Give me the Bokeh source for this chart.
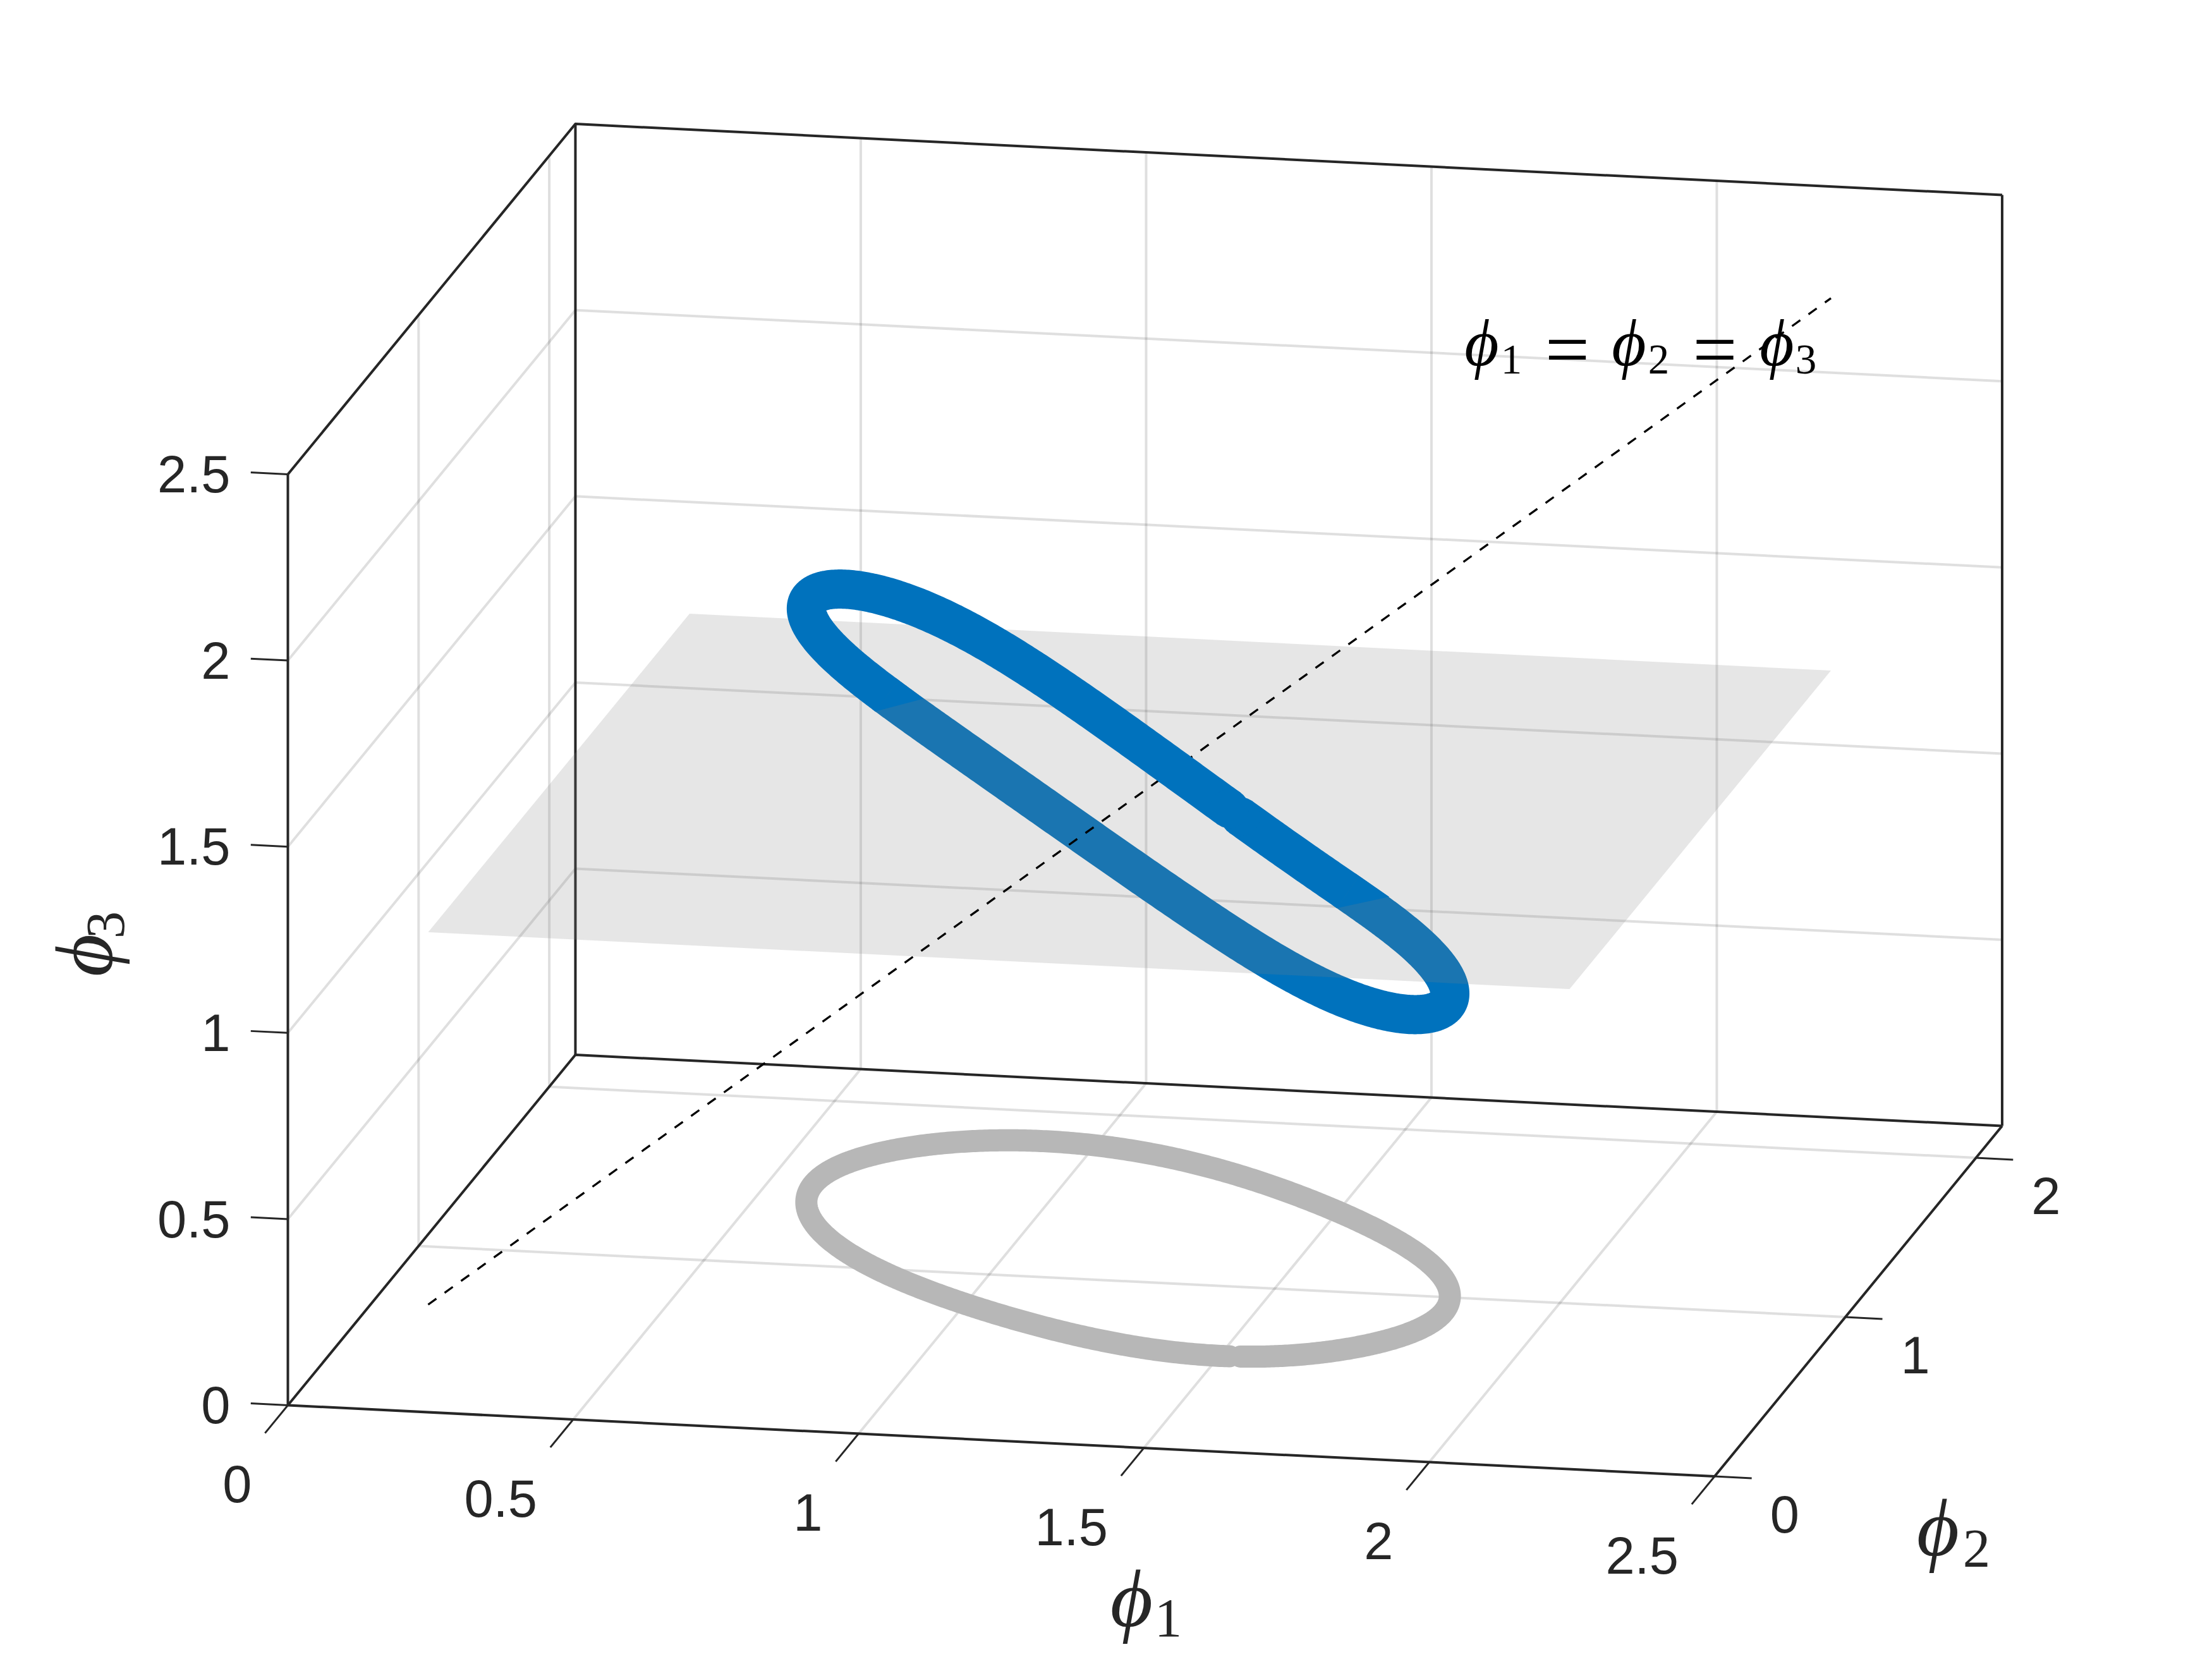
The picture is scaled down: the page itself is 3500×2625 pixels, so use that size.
import numpy as np
from bokeh.plotting import figure
from bokeh.models import Range1d
from bokeh.core.properties import value
from bokeh.embed import file_html
from bokeh.resources import INLINE

# ---- data values ----
phi1_ticks = [0, 0.5, 1, 1.5, 2, 2.5]
phi2_ticks = [0, 1, 2]
phi3_ticks = [0, 0.5, 1, 1.5, 2, 2.5]
phi1_labels = ["0", "0.5", "1", "1.5", "2", "2.5"]
phi2_labels = ["0", "1", "2"]
phi3_labels = ["0", "0.5", "1", "1.5", "2", "2.5"]
phi1_lim = [0, 2.5]
phi2_lim = [0, 2.2]
phi3_lim = [0, 2.5]

plane_phi1 = [0.2, 2.2, 2.2, 0.2]
plane_phi2 = [0.2, 0.2, 2.2, 2.2]
plane_phi3 = [1.2, 1.2, 1.2, 1.2]

diag_ends = [0.2, 2.2]

ring_phi1 = [1.5379, 1.6188, 1.6942, 1.7604, 1.7998, 1.8177, 1.8086, 1.7794, 1.7221,
             1.6164, 1.5019, 1.3936, 1.2894, 1.1890, 1.0937, 1.0020, 0.9156, 0.8324, 0.7179,
             0.6422, 0.5967, 0.5848, 0.5887, 0.6276, 0.6730, 0.7496, 0.8632, 0.9739,
             1.0743, 1.1727, 1.2716, 1.3649, 1.4557, 1.5152]
ring_phi2 = [0.5808, 0.6038, 0.6451, 0.7259, 0.8123, 0.9119, 1.0028, 1.0968, 1.2055,
             1.3522, 1.4814, 1.5834, 1.6680, 1.7361, 1.7815, 1.8111, 1.8183, 1.8113, 1.7564,
             1.6980, 1.6264, 1.5053, 1.4000, 1.2748, 1.1770, 1.0652, 0.9398, 0.8275,
             0.7593, 0.7003, 0.6386, 0.6021, 0.5762, 0.5781]
ring_phi3 = [1.449, 1.347, 1.250, 1.1266, 1.0137, 0.9012, 0.8147, 0.741, 0.668,
             0.601, 0.5847, 0.596, 0.626, 0.6767, 0.7354, 0.8119, 0.8932, 0.9788, 1.129,
             1.2486, 1.3578, 1.465, 1.583, 1.6734, 1.737, 1.792, 1.820, 1.8216,
             1.7877, 1.7391, 1.679, 1.6084, 1.5416, 1.4706]

# positions along the ring (in steps of the lists above) where it passes through the plane
split_right = 2.2
split_left = 18.78

# ---- styles ----
AXIS = "#262626"
BLUE = "#0072BD"
GRAY = "#B7B7B7"
SANS = "Liberation Sans"
SERIF = "Liberation Serif"
W, H = 3500, 2625
BASE = 0.365  # distance from the anchor to the baseline, in font sizes


def proj(a, b, c):
    """Orthographic view of the box, in page pixels."""
    a, b, c = np.asarray(a, float), np.asarray(b, float), np.asarray(c, float)
    return 455.0 + 903.0 * a + 206.8 * b, 2223.0 + 45.0 * a - 252.0 * b - 589.2 * c


def loop_param():
    """Monotonic angle of each read point round the ring, as seen on the floor."""
    a, b = np.asarray(ring_phi1), np.asarray(ring_phi2)
    m = np.c_[a - a.mean(), b - b.mean()]
    vals, vecs = np.linalg.eigh(m.T @ m / len(a))
    w = m @ vecs / np.sqrt(vals)
    return np.unwrap(np.arctan2(w[:, 1], w[:, 0]))


def design(t, order):
    cols = [np.ones_like(t)]
    for k in range(1, order + 1):
        cols += [np.cos(k * t), np.sin(k * t)]
    return np.column_stack(cols)


def smooth_loop(t_read, t_dense, v, order=5):
    """Least-squares smoothing of the hand-read points, to take out reading noise."""
    coef, *_ = np.linalg.lstsq(design(t_read, order), np.asarray(v, float), rcond=None)
    return design(t_dense, order) @ coef


p = figure(width=W, height=H, x_range=Range1d(0, W), y_range=Range1d(H, 0),
           toolbar_location=None, output_backend="svg", min_border=0,
           background_fill_color="white", border_fill_color="white")
p.axis.visible = False
p.grid.visible = False
p.outline_line_color = None


def seg3(a, b, c, color=AXIS, width=4.0, alpha=1.0, **kw):
    x, y = proj(a, b, c)
    p.line(list(x), list(y), line_color=color, line_width=width, line_alpha=alpha, **kw)


x0, x1 = phi1_lim
y0, y1 = phi2_lim
z0, z1 = phi3_lim

# ---- grid lines on the three walls ----
grid_kw = dict(color=AXIS, width=4.0, alpha=0.15)
for t in phi1_ticks[1:-1]:
    seg3([t, t], [y0, y1], [z0, z0], **grid_kw)
    seg3([t, t], [y1, y1], [z0, z1], **grid_kw)
for t in phi2_ticks[1:]:
    seg3([x0, x1], [t, t], [z0, z0], **grid_kw)
    seg3([x0, x0], [t, t], [z0, z1], **grid_kw)
for t in phi3_ticks[1:-1]:
    seg3([x0, x1], [y1, y1], [t, t], **grid_kw)
    seg3([x0, x0], [y0, y1], [t, t], **grid_kw)

# ---- box ----
seg3([x0, x1, x1], [y0, y0, y1], [z0, z0, z0], line_join="round")
seg3([x0, x0, x1], [y0, y1, y1], [z0, z0, z0], line_join="round")
seg3([x0, x0], [y0, y0], [z0, z1])
seg3([x0, x0], [y1, y1], [z0, z1])
seg3([x1, x1], [y1, y1], [z0, z1])
seg3([x0, x0, x1], [y0, y1, y1], [z1, z1, z1], line_join="round")

# ---- ticks ----
tick_w = 3.0
dx_tick = 0.065
dy_tick = 0.175
for t in phi3_ticks:
    seg3([x0, x0 - dx_tick], [y0, y0], [t, t], width=tick_w)
for t in phi1_ticks:
    seg3([t, t], [y0, y0 - dy_tick], [z0, z0], width=tick_w)
for t in phi2_ticks:
    seg3([x1, x1 + dx_tick], [t, t], [z0, z0], width=tick_w)

# ---- smooth ring ----
t_read = loop_param()
run = np.sign(t_read[-1] - t_read[0])
t_dense = np.linspace(t_read[0] - 0.004 * run, t_read[-1] + 0.004 * run, 720)
c1 = smooth_loop(t_read, t_dense, ring_phi1)
c2 = smooth_loop(t_read, t_dense, ring_phi2)
c3 = smooth_loop(t_read, t_dense, ring_phi3)
steps = np.arange(len(t_read))
si_r = int(np.argmin(np.abs(t_dense - np.interp(split_right, steps, t_read))))
si_l = int(np.argmin(np.abs(t_dense - np.interp(split_left, steps, t_read))))

# ---- shadow of the ring on the floor ----
rx, ry = proj(c1, c2, np.zeros(len(c1)))
p.line(list(rx), list(ry), line_color=GRAY, line_width=35, line_join="round", line_cap="round")

# ---- ring, part below the plane ----
bx, by = proj(c1, c2, c3)
p.line(list(bx[si_r - 2:si_l + 3]), list(by[si_r - 2:si_l + 3]), line_color=BLUE, line_width=62,
       line_join="round")

# ---- plane ----
px_, py_ = proj(plane_phi1, plane_phi2, plane_phi3)
p.patch(list(px_), list(py_), fill_color="#808080", fill_alpha=0.2, line_color=None)

# ---- diagonal ----
dx_, dy_ = proj(diag_ends, diag_ends, diag_ends)
p.line(list(dx_), list(dy_), line_color="black", line_width=3.3, line_dash="16 16")

# ---- ring, part above the plane ----
BW = 62
p.line(list(bx[:si_r + 1]), list(by[:si_r + 1]), line_color=BLUE, line_width=BW, line_join="round")
p.line(list(bx[si_l:]), list(by[si_l:]), line_color=BLUE, line_width=BW, line_join="round")
p.scatter([bx[0], bx[-1]], [by[0], by[-1]], size=BW, marker="circle", fill_color=BLUE, line_color=None)


def cut_wedge(ix_end, ix_prev, reach):
    """Where the ring dives under the plane its edge follows the plane, not the stroke normal."""
    d = np.array([bx[ix_end] - bx[ix_prev], by[ix_end] - by[ix_prev]])
    d = d / np.hypot(*d)
    n = np.array([d[1], -d[0]])
    e = np.array([bx[ix_end], by[ix_end]])
    a, b = e - n * BW / 2, e + n * BW / 2
    c = b + d * reach
    p.patch([a[0], b[0], c[0]], [a[1], b[1], c[1]], fill_color=BLUE, line_color=None)


cut_wedge(si_r, si_r - 3, 58)
cut_wedge(si_l, si_l + 3, 49)

# ---- tick labels ----
TICK_FS = 83
lift = BASE * TICK_FS
lab = dict(text_font=value(SANS), text_font_size=f"{TICK_FS}px", text_color=AXIS, text_baseline="alphabetic")
tx, ty = proj([x0] * 6, [y0] * 6, phi3_ticks)
p.text(x=[364] * 6, y=list(ty + 30 - lift), text=phi3_labels, text_align="right", **lab)
tx, ty = proj(phi1_ticks, [y0 - dy_tick] * 6, [z0] * 6)
p.text(x=list(tx - 21), y=list(ty + 111 - lift), text=phi1_labels, text_align="right", **lab)
tx, ty = proj([x1 + dx_tick] * 3, phi2_ticks, [z0] * 3)
p.text(x=list(tx + 29), y=list(ty + 87 - lift), text=phi2_labels, text_align="left", **lab)


# ---- math labels ----
def put(s, x, y, size, style="normal", angle=0.0, color=AXIS):
    k = BASE * size
    xx, yy = (x - k, y) if angle else (x, y - k)
    p.text(x=[xx], y=[yy], text=[s], text_font=value(SERIF), text_font_size=f"{size}px",
           text_font_style=style, text_color=color, text_align="center",
           text_baseline="alphabetic", angle=angle)


PHI = "\u03d5"
put(PHI, 1790, 2576, 130, "italic")
put("1", 1848, 2592, 87)
put(PHI, 3066, 2464, 130, "italic")
put("2", 3127, 2482, 87)
put(PHI, 180, 1511, 130, "italic", np.pi / 2)
put("3", 199, 1463, 87, "normal", np.pi / 2)

put(PHI, 2344, 580, 105, "italic", color="black")
put("1", 2391, 593, 67, color="black")
put("=", 2479.5, 598, 125, color="black")
put(PHI, 2577, 580, 105, "italic", color="black")
put("2", 2624, 593, 67, color="black")
put("=", 2713, 598, 125, color="black")
put(PHI, 2811, 580, 105, "italic", color="black")
put("3", 2857, 593, 67, color="black")

open("out.html", "w").write(file_html(p, INLINE))
